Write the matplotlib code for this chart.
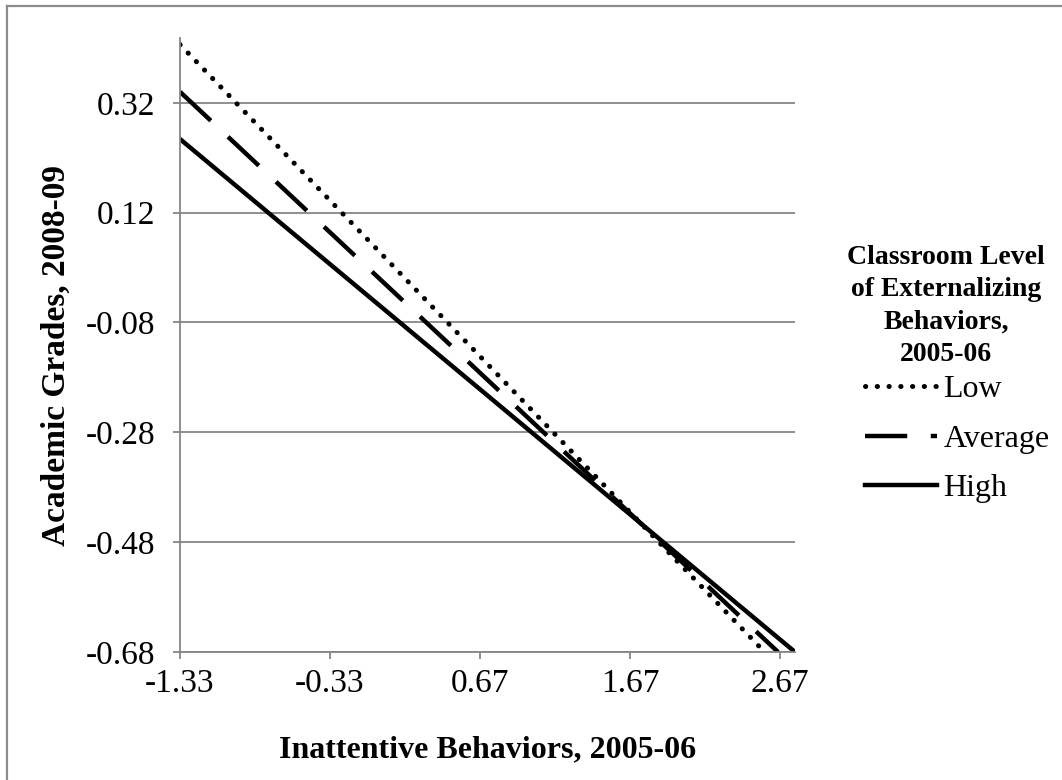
import matplotlib.pyplot as plt
from matplotlib.lines import Line2D

# predicted grades at low / high inattention for each classroom level
x_low = [-1.33, 2.567]
y_low = [0.426, -0.68]
x_avg = [-1.33, 2.657]
y_avg = [0.340, -0.68]
x_high = [-1.33, 2.77]
y_high = [0.254, -0.68]

series_labels = ["Low", "Average", "High"]
x_ticks = [-1.33, -0.33, 0.67, 1.67, 2.67]
y_ticks = [-0.68, -0.48, -0.28, -0.08, 0.12, 0.32]

plt.rcParams['font.family'] = ['Liberation Serif', 'DejaVu Serif']

W, H = 1062, 780
fig = plt.figure(figsize=(W / 100, H / 100), dpi=100)
ax = fig.add_axes([180 / W, 1 - 652 / H, (795 - 180) / W, (652 - 38) / H])

grey = '#868686'
lw = 3.2
ax.plot(x_low, y_low, color='black', lw=3.6, linestyle=(0, (0.05, 2.3)),
        dash_capstyle='round', label=series_labels[0])
ax.plot(x_avg, y_avg, color='black', lw=lw, linestyle=(0, (9.5, 5.3)),
        label=series_labels[1])
ax.plot(x_high, y_high, color='black', lw=lw, label=series_labels[2])

ax.set_xlim(-1.33, 2.77)
ax.set_ylim(-0.68, 0.438)
ax.set_xticks(x_ticks)
ax.set_xticklabels(["%.2f" % v for v in x_ticks])
ax.set_yticks(y_ticks)
ax.set_yticklabels(["%.2f" % v for v in y_ticks])
ax.yaxis.grid(True, color=grey, lw=1.3)
ax.set_axisbelow(True)

for s in ['top', 'right']:
    ax.spines[s].set_visible(False)
for s in ['left', 'bottom']:
    ax.spines[s].set_color(grey)
    ax.spines[s].set_linewidth(1.3)
ax.tick_params(axis='both', direction='out', length=5, width=1.3, color=grey,
               labelsize=24)
ax.tick_params(axis='x', pad=7)
ax.tick_params(axis='y', pad=13)

fig.text(488 / W, 1 - 750 / H, "Inattentive Behaviors, 2005-06",
         ha='center', va='center', fontsize=23, fontweight='bold')
fig.text(56 / W, 1 - 356 / H, "Academic Grades, 2008-09", rotation=90,
         ha='center', va='center', fontsize=24, fontweight='bold')

fig.text(946 / W, 1 - 306 / H,
         "Classroom Level\nof Externalizing\nBehaviors,\n2005-06",
         ha='center', va='center', fontsize=20, fontweight='bold',
         linespacing=1.4)
fig.legend(loc='center left', bbox_to_anchor=(865 / W, 1 - 439 / H),
           frameon=False, fontsize=23, handlelength=2.26, handletextpad=0.2,
           labelspacing=0.64, borderpad=0, borderaxespad=0)

# outer chart frame (top and left edges visible)
fig.add_artist(Line2D([7 / W, 7 / W], [0, 1 - 6 / H], color='#8c8c8c', lw=1.6,
                      transform=fig.transFigure))
fig.add_artist(Line2D([7 / W, 1], [1 - 6 / H, 1 - 6 / H], color='#8c8c8c', lw=1.6,
                      transform=fig.transFigure))

fig.savefig("out.png", dpi=100)
